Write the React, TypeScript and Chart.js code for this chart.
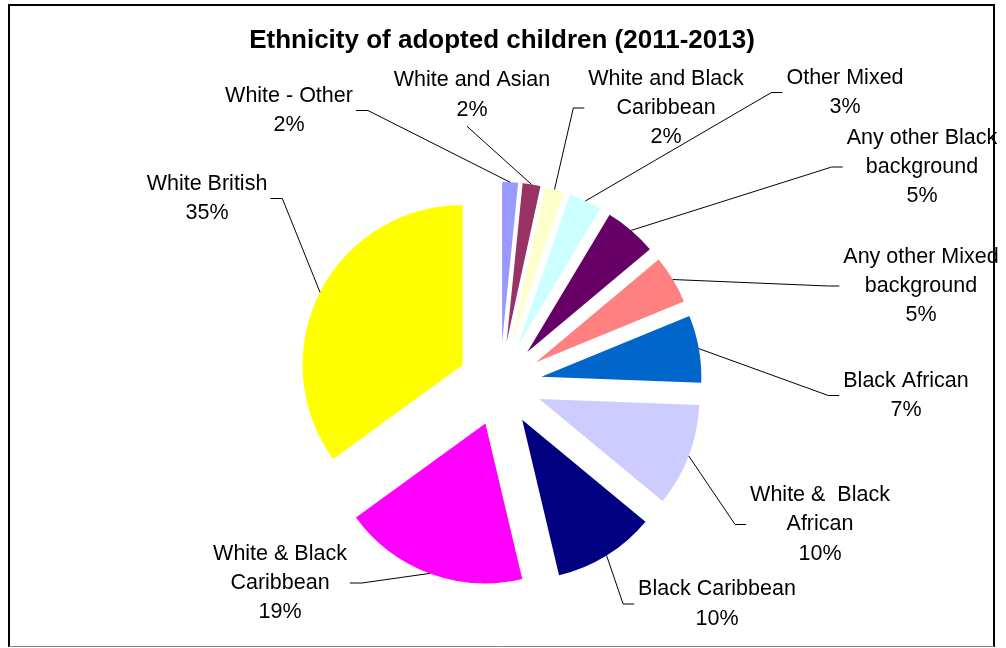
import React, { useEffect, useRef } from 'react';
import { Chart, registerables } from 'chart.js';

Chart.register(...registerables);

// ---- data ----
const chartTitle = 'Ethnicity of adopted children (2011-2013)';
const categories = [
  'White - Other',
  'White and Asian',
  'White and Black\nCaribbean',
  'Other Mixed',
  'Any other Black\nbackground',
  'Any other Mixed\nbackground',
  'Black African',
  'White &  Black\nAfrican',
  'Black Caribbean',
  'White & Black\nCaribbean',
  'White British',
];
const shares = [1.6, 1.8, 1.9, 3.3, 5.3, 4.9, 6.8, 10.4, 10.3, 18.7, 35.0];
const sliceColors = [
  '#9999FF', '#993366', '#FFFFCC', '#CCFFFF', '#660066', '#FF8080',
  '#0066CC', '#CCCCFF', '#000080', '#FF00FF', '#FFFF00',
];

// ---- label layout (text block centres, and which side the leader attaches) ----
const labelCenters: [number, number][] = [
  [289, 110.5], [472, 95], [666, 108], [845, 92.5], [922, 167], [921, 286],
  [906, 395.5], [820, 524.5], [717, 604], [280, 583], [207, 198.5],
];
const labelSides = ['right', 'bottom', 'left', 'left', 'left', 'left', 'left', 'left', 'left', 'right', 'right'];

const EXPLODE = 42;
const FONT = '"Liberation Sans", Arial, sans-serif';
const LINE_H = 29.3;

const piePlugin = {
  id: 'piePlugin',
  beforeDraw(chart: any) {
    const ctx = chart.ctx;
    ctx.save();
    ctx.fillStyle = '#ffffff';
    ctx.fillRect(0, 0, chart.width, chart.height);
    ctx.strokeStyle = '#000000';
    ctx.lineWidth = 2;
    ctx.beginPath();
    ctx.moveTo(9, 647);
    ctx.lineTo(9, 5);
    ctx.lineTo(994, 5);
    ctx.lineTo(994, 647);
    ctx.stroke();
    ctx.strokeStyle = '#808080';
    ctx.lineWidth = 1;
    ctx.beginPath();
    ctx.moveTo(9, 646.5);
    ctx.lineTo(994, 646.5);
    ctx.stroke();
    ctx.restore();
  },
  beforeDatasetsDraw(chart: any) {
    const area = chart.chartArea;
    const cx = (area.left + area.right) / 2;
    const cy = (area.top + area.bottom) / 2;
    const meta = chart.getDatasetMeta(0);
    meta.data.forEach((arc: any) => {
      const mid = (arc.startAngle + arc.endAngle) / 2;
      arc.x = cx + Math.cos(mid) * EXPLODE;
      arc.y = cy + Math.sin(mid) * EXPLODE;
    });
  },
  afterDatasetsDraw(chart: any) {
    const ctx = chart.ctx;
    const meta = chart.getDatasetMeta(0);
    const area = chart.chartArea;
    ctx.save();
    // title
    ctx.fillStyle = '#000000';
    ctx.font = `bold 26px ${FONT}`;
    ctx.textAlign = 'center';
    ctx.textBaseline = 'middle';
    ctx.fillText(chartTitle, (area.left + area.right) / 2 + 2, 41);

    ctx.font = `21.5px ${FONT}`;
    meta.data.forEach((arc: any, i: number) => {
      const mid = (arc.startAngle + arc.endAngle) / 2;
      const px = arc.x + Math.cos(mid) * arc.outerRadius;
      const py = arc.y + Math.sin(mid) * arc.outerRadius;
      const lines = categories[i].split('\n').concat([Math.round(shares[i]) + '%']);
      const [lx, ly] = labelCenters[i];
      const w = Math.max(...lines.map((t) => ctx.measureText(t).width));
      const h = lines.length * LINE_H;
      // leader line
      ctx.strokeStyle = '#000000';
      ctx.lineWidth = 1;
      ctx.beginPath();
      ctx.moveTo(px, py);
      const side = labelSides[i];
      if (side === 'left') {
        const edge = lx - w / 2 - 4;
        ctx.lineTo(edge - 11, ly);
        ctx.lineTo(edge, ly);
      } else if (side === 'right') {
        const edge = lx + w / 2 + 3;
        ctx.lineTo(edge + 12, ly);
        ctx.lineTo(edge, ly);
      } else {
        ctx.lineTo(lx - 5, ly + h / 2 + 2);
      }
      ctx.stroke();
      // text
      ctx.fillStyle = '#000000';
      lines.forEach((t, k) => {
        ctx.fillText(t, lx, ly + (k - (lines.length - 1) / 2) * LINE_H);
      });
    });
    ctx.restore();
  },
};

export default function App() {
  const ref = useRef<HTMLCanvasElement | null>(null);
  useEffect(() => {
    if (!ref.current) return;
    const chart = new Chart(ref.current, {
      type: 'pie',
      data: {
        labels: categories,
        datasets: [
          {
            data: shares,
            backgroundColor: sliceColors,
            borderWidth: 0,
          },
        ],
      },
      options: {
        animation: false,
        responsive: true,
        maintainAspectRatio: false,
        radius: 160,
        layout: { padding: { left: 0, right: 6, top: 120, bottom: 0 } },
        plugins: {
          legend: { display: false },
          tooltip: { enabled: false },
          title: { display: false },
        },
        events: [],
      } as any,
      plugins: [piePlugin],
    });
    return () => chart.destroy();
  }, []);
  return (
    <div style={{ position: 'absolute', left: 0, top: 0, width: 1006, height: 648 }}>
      <canvas ref={ref} />
    </div>
  );
}
